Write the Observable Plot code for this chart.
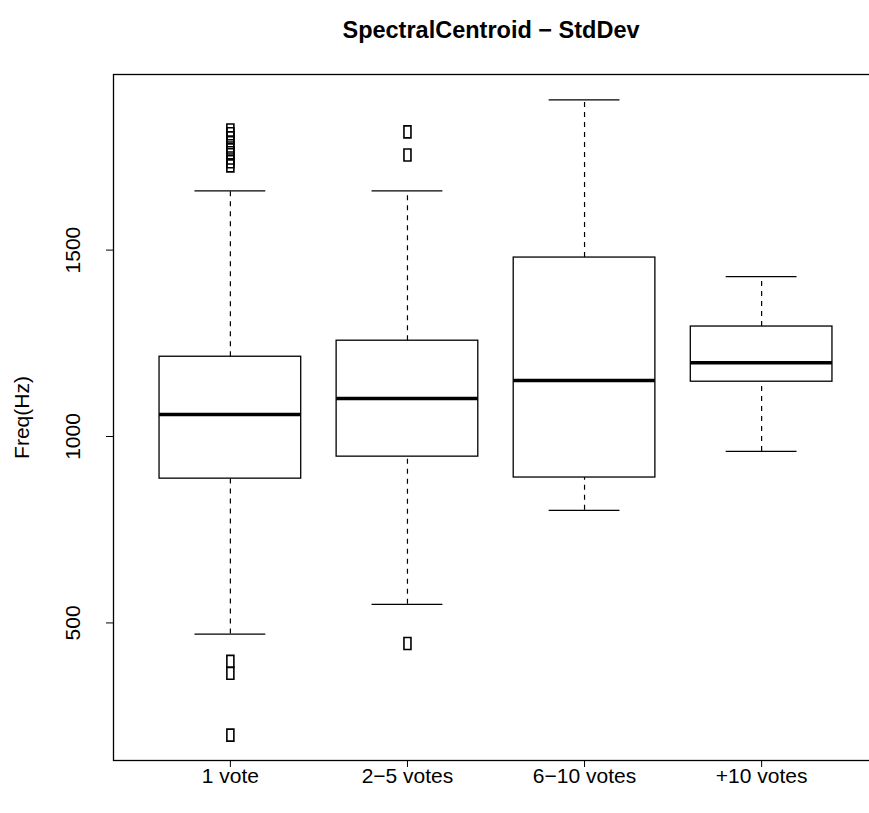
<!DOCTYPE html>
<html>
<head>
<meta charset="utf-8">
<script src="https://cdn.jsdelivr.net/npm/d3@7"></script>
<script src="https://cdn.jsdelivr.net/npm/@observablehq/plot@0.6"></script>
<style>
  html, body { margin: 0; padding: 0; background: white; overflow: hidden; }
  #wrap { width: 869px; height: 813px; position: relative; }
  #title { width: 869px; height: 60px; box-sizing: border-box; padding-left: 113px;
           text-align: center; font: bold 23.5px "Liberation Sans", Arial, sans-serif;
           line-height: 60px; color: black; }
</style>
</head>
<body>
<div id="wrap">
  <div id="title">SpectralCentroid − StdDev</div>
  <div id="chart"></div>
</div>
<script>
const categories = ["1 vote", "2−5 votes", "6−10 votes", "+10 votes"];
const lowerWhisker = [470, 550, 802, 960];
const q1 = [887, 946, 890, 1147];
const median = [1059, 1102, 1150, 1198];
const q3 = [1214, 1257, 1480, 1295];
const upperWhisker = [1659, 1659, 1903, 1429];
const outlierGroup = [1, 1, 1, 1, 1, 1, 1, 1, 1, 1, 1, 1, 2, 2, 2];
const outlierValue = [1822, 1812, 1801, 1788, 1774, 1761, 1747, 1737, 1726, 397, 365, 199, 1817, 1755, 445];
const yTicks = [500, 1000, 1500];
const yLabel = "Freq(Hz)";

const boxes = categories.map((c, i) => ({
  pos: i + 1, name: c, lo: lowerWhisker[i], q1: q1[i], med: median[i], q3: q3[i], hi: upperWhisker[i]
}));
const outliers = outlierValue.map((v, i) => ({pos: outlierGroup[i], v}));

const rectSymbol = { draw(ctx) { ctx.rect(-3.5, -6, 7, 12); } };
const font = "Liberation Sans, Arial, sans-serif";

const chart = Plot.plot({
  width: 869,
  height: 753,
  marginLeft: 113,
  marginRight: -9,
  marginTop: 14,
  marginBottom: 53,
  style: { fontFamily: font, fontSize: "21px", background: "white", color: "black" },
  x: { type: "linear", domain: [0.34, 4.66] },
  y: { domain: [131, 1971] },
  marks: [
    Plot.ruleX(boxes, { x: "pos", y1: "q3", y2: "hi", stroke: "black", strokeWidth: 1.2, strokeDasharray: "5,5" }),
    Plot.ruleX(boxes, { x: "pos", y1: "lo", y2: "q1", stroke: "black", strokeWidth: 1.2, strokeDasharray: "5,5" }),
    Plot.ruleY(boxes, { y: "hi", x1: d => d.pos - 0.2, x2: d => d.pos + 0.2, stroke: "black", strokeWidth: 1.3 }),
    Plot.ruleY(boxes, { y: "lo", x1: d => d.pos - 0.2, x2: d => d.pos + 0.2, stroke: "black", strokeWidth: 1.3 }),
    Plot.rect(boxes, { x1: d => d.pos - 0.4, x2: d => d.pos + 0.4, y1: "q1", y2: "q3", fill: "white", stroke: "black", strokeWidth: 1.3 }),
    Plot.ruleY(boxes, { y: "med", x1: d => d.pos - 0.4, x2: d => d.pos + 0.4, stroke: "black", strokeWidth: 3.5 }),
    Plot.dot(outliers, { x: "pos", y: "v", symbol: rectSymbol, r: 4, fill: "none", stroke: "black", strokeWidth: 1.6 }),
    Plot.frame({ stroke: "black", strokeWidth: 1.3 }),
    Plot.axisX({ ticks: [1, 2, 3, 4], tickFormat: i => categories[i - 1], tickSize: 7, tickPadding: 1, fontSize: 21, label: null, stroke: "black", strokeOpacity: 1 }),
    Plot.axisY({ ticks: yTicks, tickSize: 7, tickFormat: () => "", label: null, stroke: "black", strokeOpacity: 1 }),
    Plot.text(yTicks, { y: d => d, text: d => String(d), frameAnchor: "left", textAnchor: "middle", dx: -40, rotate: -90, fontSize: 21, fill: "black" }),
    Plot.text([yLabel], { text: d => d, frameAnchor: "left", textAnchor: "middle", dx: -91, rotate: -90, fontSize: 21, fill: "black" })
  ]
});
document.getElementById("chart").appendChild(chart);
</script>
</body>
</html>
